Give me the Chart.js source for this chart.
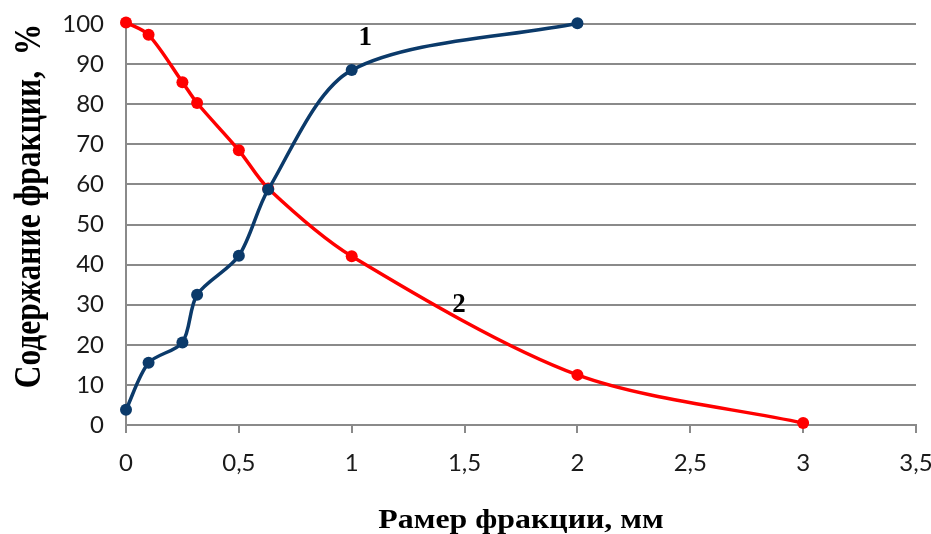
<!DOCTYPE html>
<html lang="ru">
<head>
  <meta charset="UTF-8" />
  <title>Содержание фракции</title>
  <script src="https://cdn.jsdelivr.net/npm/chart.js"></script>
  <style>
    body { margin: 0; background: #fff; }
    #wrap { width: 931px; height: 534px; }
  </style>
</head>
<body>
  <div id="wrap"><canvas id="fractionChart"></canvas></div>
  <script>
    // sieve sizes, mm
    const sizes1 = [0, 0.1, 0.25, 0.315, 0.5, 0.63, 1, 2];
    const values1 = [3.8, 15.5, 20.6, 32.5, 42.2, 58.7, 88.5, 100.2];
    const sizes2 = [0, 0.1, 0.25, 0.315, 0.5, 0.63, 1, 2, 3];
    const values2 = [100.4, 97.3, 85.5, 80.3, 68.5, 59, 42.1, 12.5, 0.5];
    const xTicks = [0, 0.5, 1, 1.5, 2, 2.5, 3, 3.5];
    const curveLabels = ['1', '2'];
    const curveLabelAt = [[1.06, 96.5], [1.475, 29.9]];
    const xTitle = 'Рамер фракции, мм';
    const yTitle = 'Содержание фракции,  %';

    const toPoints = (xs, ys) => xs.map((x, i) => ({ x: x, y: ys[i] }));
    const gridGray = '#8a8a8a';

    // curve numbers and the two axis titles (the titles in the picture are stretched)
    const textPlugin = {
      id: 'chartText',
      afterDraw(chart) {
        const ctx = chart.ctx;
        const xs = chart.scales.x, ys = chart.scales.y;
        const area = chart.chartArea;
        ctx.save();
        ctx.fillStyle = '#000';
        ctx.textAlign = 'center';
        ctx.textBaseline = 'middle';
        ctx.font = 'bold 27px "Liberation Serif"';
        curveLabels.forEach((t, i) => {
          ctx.fillText(t, xs.getPixelForValue(curveLabelAt[i][0]), ys.getPixelForValue(curveLabelAt[i][1]));
        });

        ctx.textBaseline = 'alphabetic';
        ctx.save();
        ctx.translate((area.left + area.right) / 2, 528);
        ctx.scale(1.18, 1);
        ctx.font = 'bold 27px "Liberation Serif"';
        ctx.fillText(xTitle, 0, 0);
        ctx.restore();

        ctx.save();
        ctx.translate(40, 206);
        ctx.rotate(-Math.PI / 2);
        ctx.scale(0.9, 1.1);
        ctx.font = 'bold 35px "Liberation Serif"';
        ctx.fillText(yTitle, 0, 0);
        ctx.restore();
        ctx.restore();
      }
    };

    new Chart(document.getElementById('fractionChart'), {
      type: 'line',
      data: {
        datasets: [
          {
            label: '1',
            data: toPoints(sizes1, values1),
            borderColor: '#0B3A6A',
            backgroundColor: '#0B3A6A',
            borderWidth: 3.5,
            pointRadius: 6,
            pointBorderWidth: 0,
            tension: 0.3,
            order: 1
          },
          {
            label: '2',
            data: toPoints(sizes2, values2),
            borderColor: '#FF0000',
            backgroundColor: '#FF0000',
            borderWidth: 3.5,
            pointRadius: 6,
            pointBorderWidth: 0,
            tension: 0.3,
            order: 2
          }
        ]
      },
      options: {
        responsive: true,
        maintainAspectRatio: false,
        animation: false,
        clip: false,
        layout: { padding: { top: 24, right: 15, left: 0, bottom: 0 } },
        plugins: {
          legend: { display: false },
          tooltip: { enabled: false }
        },
        scales: {
          x: {
            type: 'linear',
            min: 0,
            max: 3.5,
            afterBuildTicks: (scale) => { scale.ticks = xTicks.map(v => ({ value: v })); },
            afterFit: (scale) => {
              scale.height = 109;
              scale.paddingLeft = 0;
              scale.paddingRight = 0;
            },
            ticks: {
              color: '#1a1a1a',
              font: { family: 'Lato', size: 24 },
              padding: 16,
              maxRotation: 0,
              callback: (v) => String(v).replace('.', ',')
            },
            grid: { drawOnChartArea: false, color: gridGray, lineWidth: 2, tickLength: 8 },
            border: { color: gridGray, width: 2 }
          },
          y: {
            min: 0,
            max: 100,
            afterFit: (scale) => {
              scale.width = 126;
              scale.paddingTop = 0;
              scale.paddingBottom = 0;
            },
            ticks: {
              stepSize: 10,
              color: '#1a1a1a',
              font: { family: 'Lato', size: 24 },
              padding: 22
            },
            grid: { color: gridGray, lineWidth: 2, drawTicks: false },
            border: { color: gridGray, width: 2 }
          }
        }
      },
      plugins: [textPlugin]
    });
  </script>
</body>
</html>
